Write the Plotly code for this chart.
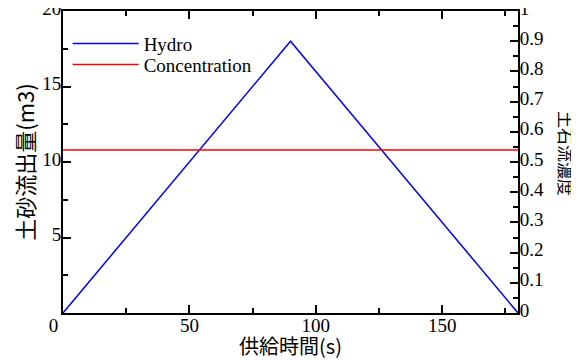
import plotly.graph_objects as go

# Data
time_s = [0, 90, 180]
hydro_m3 = [0, 18, 0]
conc_time = [0, 180]
concentration = [0.54, 0.54]

x_ticks = [0, 50, 100, 150]
x_ticktext = ["0\u2007\u2007", "50", "100", "150"]
y_ticks = [5, 10, 15, 20]
y2_ticks = [0, 0.1, 0.2, 0.3, 0.4, 0.5, 0.6, 0.7, 0.8, 0.9, 1]
y2_ticktext = ["0", "0.1", "0.2", "0.3", "0.4", "0.5", "0.6", "0.7", "0.8", "0.9", "1"]

SERIF = "Times New Roman, Liberation Serif, serif"
CJK = "Noto Sans CJK JP"

fig = go.Figure()
fig.add_trace(go.Scatter(x=time_s, y=hydro_m3, mode="lines", name="Hydro", legend="legend",
                         line=dict(color="#0000ff", width=1.5)))
fig.add_trace(go.Scatter(x=conc_time, y=concentration, mode="lines", name="Concentration",
                         legend="legend2", line=dict(color="#ff0000", width=1.5), yaxis="y2"))

axis_common = dict(showgrid=False, zeroline=False, showline=True, linecolor="black",
                   linewidth=2, ticks="inside", ticklen=8, tickwidth=1.5, tickcolor="black",
                   automargin=False, ticklabeloverflow="allow",
                   tickfont=dict(family=SERIF, size=19, color="black"))
minor_common = dict(ticks="inside", ticklen=5, tickwidth=1.5, tickcolor="black")
legend_common = dict(xanchor="left", yanchor="top", bgcolor="rgba(0,0,0,0)",
                     font=dict(family=SERIF, size=19, color="black"), itemwidth=66)

fig.update_layout(
    width=571, height=352,
    margin=dict(l=55, r=61, t=3, b=47),
    paper_bgcolor="white", plot_bgcolor="white",
    showlegend=True,
    legend=dict(x=0.0102, y=0.955, **legend_common),
    legend2=dict(x=0.0102, y=0.8854, **legend_common),
    xaxis=dict(range=[0, 180], tickvals=x_ticks, ticktext=x_ticktext, mirror="ticks",
               ticklabelstandoff=-6,
               minor=dict(dtick=25, tick0=0, **minor_common),
               title=dict(text="供給時間(s)", font=dict(family=CJK, size=20, color="black"), standoff=9),
               **axis_common),
    yaxis=dict(range=[0, 20], tickvals=y_ticks, ticklabelstandoff=-4, ticklabelshift=-3,
               minor=dict(dtick=2.5, tick0=0, **minor_common),
               title=dict(text="土砂流出量(m3)", font=dict(family=CJK, size=22, color="black"), standoff=3),
               **axis_common),
    yaxis2=dict(range=[0, 1], tickvals=y2_ticks, ticktext=y2_ticktext, overlaying="y", side="right",
                ticklabelstandoff=-4, ticklabelshift=-3,
                minor=dict(dtick=0.05, tick0=0, **minor_common),
                **axis_common),
    annotations=[dict(text="土石流濃度", xref="paper", yref="paper", x=1, y=0.53,
                      xanchor="center", yanchor="middle", xshift=48, textangle=90, showarrow=False,
                      font=dict(family=CJK, size=17, color="black"))],
)

fig.write_html("out.html")
